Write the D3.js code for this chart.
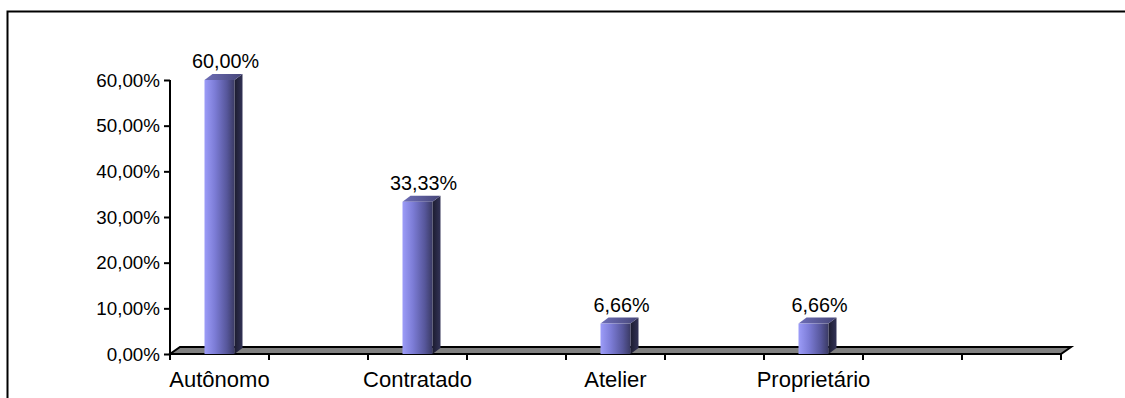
<!DOCTYPE html>
<html>
<head>
<meta charset="utf-8">
<script src="https://cdn.jsdelivr.net/npm/d3@7"></script>
<style>
  html, body { margin: 0; padding: 0; background: #fff; }
  svg { display: block; }
  text { font-family: Arial, "Liberation Sans", sans-serif; fill: #000; }
</style>
</head>
<body>
<svg id="chart" width="1125" height="398"></svg>
<script>
// Category slots along the floor; only every other slot carries a column.
const categories = ["Autônomo", "", "Contratado", "", "Atelier", "", "Proprietário", "", ""];
const values = [0.60, null, 0.3333, null, 0.0666, null, 0.0666, null, null];
const valueLabels = ["60,00%", "", "33,33%", "", "6,66%", "", "6,66%", "", ""];
const yTicks = [0, 0.1, 0.2, 0.3, 0.4, 0.5, 0.6];

const svg = d3.select("#chart");
const W = 1125, H = 398;

// Outer frame (runs off the right and bottom edges)
svg.append("rect")
  .attr("x", 7.5).attr("y", 11.5)
  .attr("width", W).attr("height", H)
  .attr("fill", "none").attr("stroke", "#000").attr("stroke-width", 2);

const x0 = 170, x1 = 1061, yBase = 354, yTop = 80;
const depthX = 10, depthY = 7;   // floor depth
const barDX = 8, barDY = 6;      // column depth
const barW = 30;

const x = d3.scaleBand().domain(d3.range(categories.length)).range([x0, x1]).padding(0);
const y = d3.scaleLinear().domain([0, 0.6]).range([yBase, yTop]);

const defs = svg.append("defs");
const gFront = defs.append("linearGradient").attr("id", "gFront")
  .attr("x1", "0%").attr("x2", "100%").attr("y1", "0%").attr("y2", "0%");
gFront.append("stop").attr("offset", "0%").attr("stop-color", "#9c9cf8");
gFront.append("stop").attr("offset", "35%").attr("stop-color", "#7c7cd6");
gFront.append("stop").attr("offset", "75%").attr("stop-color", "#56569a");
gFront.append("stop").attr("offset", "100%").attr("stop-color", "#3a3a64");
const gSide = defs.append("linearGradient").attr("id", "gSide")
  .attr("x1", "0%").attr("x2", "100%").attr("y1", "0%").attr("y2", "0%");
gSide.append("stop").attr("offset", "0%").attr("stop-color", "#1c1c30");
gSide.append("stop").attr("offset", "100%").attr("stop-color", "#323256");
const gTop = defs.append("linearGradient").attr("id", "gTop")
  .attr("x1", "0%").attr("x2", "100%").attr("y1", "0%").attr("y2", "0%");
gTop.append("stop").attr("offset", "0%").attr("stop-color", "#6e6eb8");
gTop.append("stop").attr("offset", "100%").attr("stop-color", "#464678");

// Floor
svg.append("path")
  .attr("d", d3.line()([[x0, yBase], [x1, yBase], [x1 + depthX, yBase - depthY], [x0 + depthX, yBase - depthY]]) + "Z")
  .attr("fill", "#808080").attr("stroke", "#000").attr("stroke-width", 2)
  .attr("stroke-linejoin", "miter");

// Value axis
const yAxis = d3.axisLeft(y).tickValues(yTicks).tickSize(6).tickPadding(4)
  .tickFormat(d => d3.format(".2f")(d * 100).replace(".", ",") + "%");
const gy = svg.append("g").attr("transform", `translate(${x0},0)`).call(yAxis);
gy.select(".domain").attr("stroke", "#000").attr("stroke-width", 2).attr("d", `M0,${yTop}V${yBase}`);
gy.selectAll(".tick line").attr("stroke", "#000").attr("stroke-width", 2);
gy.selectAll(".tick text").attr("font-size", 18.8).attr("font-family", "Arial, 'Liberation Sans', sans-serif").attr("fill", "#000");

// Category axis ticks at slot boundaries
const boundaries = d3.range(categories.length + 1).map(i => x0 + i * x.bandwidth());
svg.append("g").selectAll("line").data(boundaries).join("line")
  .attr("x1", d => d).attr("x2", d => d)
  .attr("y1", yBase).attr("y2", yBase + 6)
  .attr("stroke", "#000").attr("stroke-width", 2);

// Columns
const bars = svg.append("g").selectAll("g")
  .data(values.map((v, i) => ({ v, i })).filter(d => d.v != null))
  .join("g");

bars.each(function(d) {
  const g = d3.select(this);
  const cx = x(d.i) + x.bandwidth() / 2;
  const bx = cx - barW / 2;
  const yv = y(d.v);
  g.append("path")
    .attr("d", d3.line()([[bx + barW, yv], [bx + barW + barDX, yv - barDY], [bx + barW + barDX, yBase - barDY], [bx + barW, yBase]]) + "Z")
    .attr("fill", "url(#gSide)");
  g.append("path")
    .attr("d", d3.line()([[bx, yv], [bx + barDX, yv - barDY], [bx + barW + barDX, yv - barDY], [bx + barW, yv]]) + "Z")
    .attr("fill", "url(#gTop)");
  g.append("rect")
    .attr("x", bx).attr("y", yv).attr("width", barW).attr("height", yBase - yv)
    .attr("fill", "url(#gFront)");
  g.append("text")
    .attr("x", cx + 6).attr("y", yv - 12)
    .attr("text-anchor", "middle")
    .attr("font-size", 19.8)
    .text(valueLabels[d.i]);
});

// Category labels
svg.append("g").selectAll("text")
  .data(categories.map((c, i) => ({ c, i })).filter(d => d.c))
  .join("text")
  .attr("x", d => x(d.i) + x.bandwidth() / 2)
  .attr("y", 387)
  .attr("text-anchor", "middle")
  .attr("font-size", 22)
  .text(d => d.c);
</script>
</body>
</html>
